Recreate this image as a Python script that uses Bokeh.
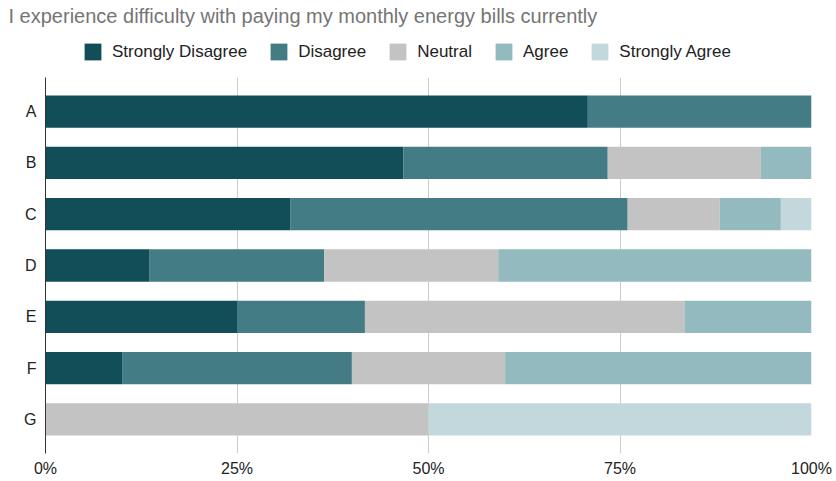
from bokeh.plotting import figure
from bokeh.layouts import column
from bokeh.models import (FactorRange, Range1d, NumeralTickFormatter, Legend, LegendItem,
                          FixedTicker, ColumnDataSource)
from bokeh.embed import file_html
from bokeh.resources import INLINE

categories = ["A", "B", "C", "D", "E", "F", "G"]
series = ["Strongly Disagree", "Disagree", "Neutral", "Agree", "Strongly Agree"]
strongly_disagree = [70.8, 46.7, 32.0, 13.6, 25.0, 10.0, 0.0]
disagree = [29.2, 26.7, 44.0, 22.8, 16.7, 30.0, 0.0]
neutral = [0.0, 20.0, 12.0, 22.7, 41.7, 20.0, 50.0]
agree = [0.0, 6.6, 8.0, 40.9, 16.6, 40.0, 0.0]
strongly_agree = [0.0, 0.0, 4.0, 0.0, 0.0, 0.0, 50.0]
colors = ["#124e58", "#437c84", "#c3c3c3", "#93babf", "#c3d8dc"]
x_ticks = [0, 0.25, 0.5, 0.75, 1.0]
title_text = "I experience difficulty with paying my monthly energy bills currently"

data = {"cat": categories}
for name, vals in zip(series, [strongly_disagree, disagree, neutral, agree, strongly_agree]):
    data[name] = [v / 100.0 for v in vals]
source = ColumnDataSource(data)

FONT = "Liberation Sans"
W = 836
TOP_H = 77
MAIN_H = 481 - TOP_H
LEFT = 45
RIGHT = 25

# ---- header: title + legend ----
head = figure(width=W, height=TOP_H, output_backend="svg", toolbar_location=None,
              x_range=Range1d(0, 1), y_range=FactorRange(factors=list(reversed(categories))),
              x_axis_type=None, y_axis_type=None, title=title_text,
              min_border_left=LEFT, min_border_right=RIGHT, min_border_top=0, min_border_bottom=0)
head.outline_line_color = None
head.grid.visible = False
head.title.text_font = FONT
head.title.text_font_size = "20px"
head.title.text_font_style = "normal"
head.title.text_color = "#757575"
head.title.align = "left"
head.title.offset = 8 - LEFT
head.title.standoff = 5

proxies = head.hbar_stack(series, y="cat", height=0.63, color=colors, source=source,
                          line_color=None, visible=False)

items = [LegendItem(label=name, renderers=[r]) for name, r in zip(series, proxies)]
legend = Legend(items=items, orientation="horizontal", location=(82 - LEFT, TOP_H - 62),
                glyph_width=21, glyph_height=21, label_height=21, label_standoff=9,
                spacing=21, padding=0, margin=0, border_line_color=None,
                background_fill_alpha=0, inactive_fill_alpha=0,
                label_text_font=FONT, label_text_font_size="17px",
                label_text_color="#222222")
head.add_layout(legend, "center")

# ---- main chart ----
p = figure(width=W, height=MAIN_H, output_backend="svg", toolbar_location=None,
           y_range=FactorRange(factors=list(reversed(categories)),
                               range_padding=0.165, range_padding_units="absolute"),
           x_range=Range1d(0, 1),
           min_border_left=LEFT, min_border_right=RIGHT, min_border_top=0, min_border_bottom=28)

p.hbar_stack(series, y="cat", height=0.63, color=colors, source=source, line_color=None)

p.outline_line_color = None
p.ygrid.grid_line_color = None
p.xgrid.grid_line_color = "#cccccc"
p.xgrid.grid_line_width = 1
p.xaxis.ticker = FixedTicker(ticks=x_ticks)
p.xgrid.ticker = FixedTicker(ticks=x_ticks)
p.xaxis.formatter = NumeralTickFormatter(format="0%")
p.xaxis.axis_line_color = None
p.xaxis.major_tick_line_color = None
p.xaxis.minor_tick_line_color = None
p.xaxis.major_tick_out = 0
p.xaxis.minor_tick_out = 0
p.xaxis.major_label_standoff = 6
p.xaxis.major_label_text_font = FONT
p.xaxis.major_label_text_font_size = "16px"
p.xaxis.major_label_text_color = "#222222"

p.yaxis.axis_line_color = "#333333"
p.yaxis.axis_line_width = 1
p.yaxis.major_tick_line_color = None
p.yaxis.minor_tick_line_color = None
p.yaxis.major_tick_out = 0
p.yaxis.minor_tick_out = 0
p.yaxis.major_label_standoff = 9
p.yaxis.major_label_text_font = FONT
p.yaxis.major_label_text_font_size = "16px"
p.yaxis.major_label_text_color = "#222222"

layout = column(head, p, spacing=0)
open("out.html", "w").write(file_html(layout, INLINE))
